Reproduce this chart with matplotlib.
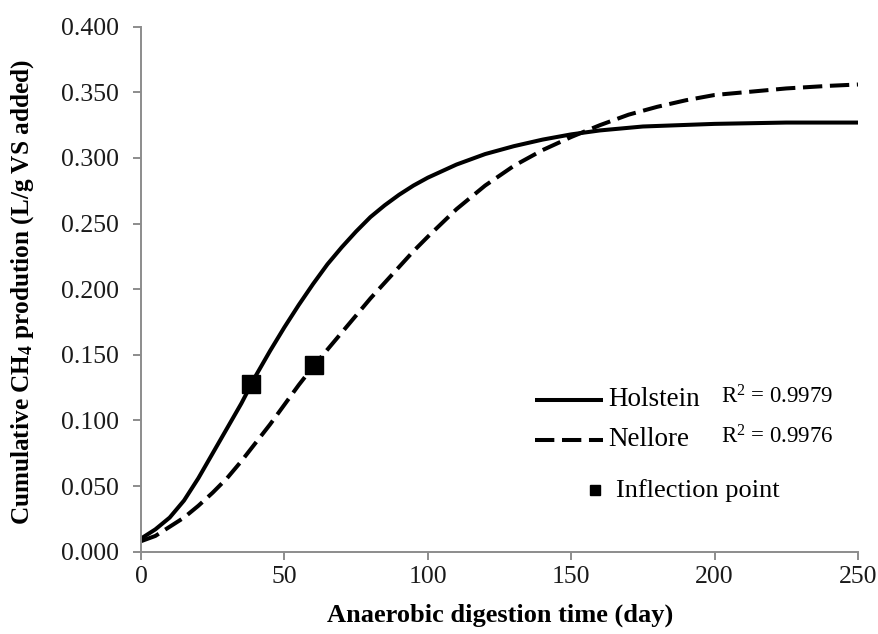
import matplotlib
matplotlib.use("Agg")
import matplotlib.pyplot as plt

plt.rcParams['font.family'] = ['Liberation Serif', 'DejaVu Serif']
plt.rcParams['mathtext.fontset'] = 'custom'
plt.rcParams['mathtext.rm'] = 'Liberation Serif'
plt.rcParams['mathtext.bf'] = 'Liberation Serif:bold'
plt.rcParams['mathtext.it'] = 'Liberation Serif:italic'

# ---- data ----
holstein_day = [0, 5, 10, 15, 20, 25, 30, 35, 40, 45, 50, 55, 60, 65, 70, 75, 80, 85, 90,
                95, 100, 110, 120, 130, 140, 150, 160, 175, 200, 225, 250]
holstein_ch4 = [0.010, 0.017, 0.026, 0.039, 0.056, 0.075, 0.094, 0.113, 0.134, 0.153, 0.171,
                0.188, 0.204, 0.219, 0.232, 0.244, 0.255, 0.264, 0.272, 0.279, 0.285, 0.295,
                0.303, 0.309, 0.314, 0.318, 0.321, 0.324, 0.326, 0.327, 0.327]

nellore_day = [0, 5, 10, 15, 20, 25, 30, 35, 40, 45, 50, 55, 60, 65, 70, 75, 80, 85, 90, 95,
               100, 110, 120, 130, 140, 150, 160, 170, 180, 190, 200, 210, 225, 240, 250]
nellore_ch4 = [0.008, 0.012, 0.019, 0.026, 0.035, 0.045, 0.056, 0.069, 0.083, 0.097, 0.112,
               0.127, 0.141, 0.154, 0.167, 0.180, 0.193, 0.205, 0.217, 0.229, 0.240, 0.261,
               0.279, 0.294, 0.306, 0.316, 0.325, 0.333, 0.339, 0.344, 0.348, 0.350, 0.353,
               0.355, 0.356]

inflection_day = [38.4, 60.3]
inflection_ch4 = [0.128, 0.142]

series_names = ["Holstein", "Nellore"]
r2_labels = ["R$^{2}$ = 0.9979", "R$^{2}$ = 0.9976"]

x_ticks = [0, 50, 100, 150, 200, 250]
y_ticks = [0.000, 0.050, 0.100, 0.150, 0.200, 0.250, 0.300, 0.350, 0.400]

# ---- figure ----
fig = plt.figure(figsize=(8.79, 6.34), dpi=100)
ax = fig.add_axes([0.1604, 0.1298, 0.8157, 0.828])

lw = 2.9
dash = (0, (4.8, 1.9))
ax.plot(holstein_day, holstein_ch4, color='black', lw=lw, solid_capstyle='butt',
        solid_joinstyle='round')
ax.plot(nellore_day, nellore_ch4, color='black', lw=lw, linestyle=dash,
        dash_capstyle='butt')
ax.plot(inflection_day, inflection_ch4, linestyle='none', marker='s', markersize=12.5,
        color='black')

ax.set_xlim(0, 250)
ax.set_ylim(0, 0.4)
ax.set_xticks(x_ticks)
ax.set_yticks(y_ticks)
ax.set_yticklabels([f"{v:.3f}" for v in y_ticks])

for s in ['top', 'right']:
    ax.spines[s].set_visible(False)
for s in ['left', 'bottom']:
    ax.spines[s].set_color('#8c8c8c')
    ax.spines[s].set_linewidth(1.4)
ax.tick_params(axis='both', direction='out', length=5.6, width=1.4, color='#8c8c8c',
               labelsize=18.5, labelcolor='#1a1a1a')
ax.tick_params(axis='x', pad=5)
ax.tick_params(axis='y', pad=10)

ax.set_xlabel("Anaerobic digestion time (day)", fontsize=19, fontweight='bold')
ax.set_ylabel(r"Cumulative CH$_{\mathbf{4}}$ prodution (L/g VS added)", fontsize=18.2,
              fontweight='bold')
ax.xaxis.set_label_coords(0.5007, -0.098)
ax.yaxis.set_label_coords(-0.147, 0.495)

# ---- custom legend ----
tr = ax.transAxes
ax.plot([0.5495, 0.6444], [0.289, 0.289], transform=tr, color='black', lw=lw,
        solid_capstyle='butt')
ax.plot([0.5495, 0.6444], [0.2128, 0.2128], transform=tr, color='black', lw=lw,
        linestyle=dash, dash_capstyle='butt')
ax.plot([0.633], [0.1175], transform=tr, marker='s', markersize=7.2, color='black',
        linestyle='none')
ax.text(0.652, 0.289, series_names[0], transform=tr, fontsize=19.5, va='center', ha='left')
ax.text(0.652, 0.2128, series_names[1], transform=tr, fontsize=19.5, va='center', ha='left')
ax.text(0.809, 0.295, r2_labels[0], transform=tr, fontsize=16.5, va='center', ha='left')
ax.text(0.809, 0.2188, r2_labels[1], transform=tr, fontsize=16.5, va='center', ha='left')
ax.text(0.662, 0.1175, "Inflection point", transform=tr, fontsize=19, va='center', ha='left')

fig.savefig("out.png", dpi=100)
